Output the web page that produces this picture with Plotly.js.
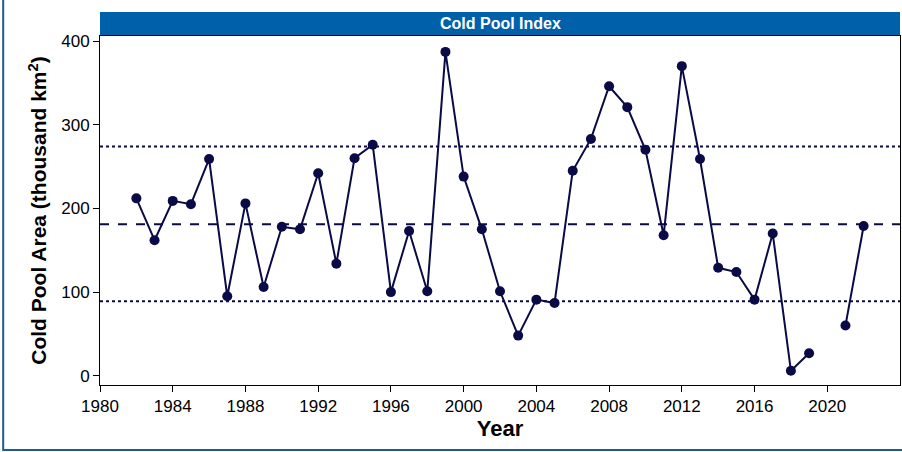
<!DOCTYPE html>
<html>
<head>
<script src="https://cdn.plot.ly/plotly-3.0.1.min.js"></script>
<style>body{margin:0;}</style>
</head>
<body>
<div id="chart" style="width:902px;height:452px;"></div>
<script>
let years1 = [1982,1983,1984,1985,1986,1987,1988,1989,1990,1991,1992,1993,1994,1995,1996,1997,1998,1999,2000,2001,2002,2003,2004,2005,2006,2007,2008,2009,2010,2011,2012,2013,2014,2015,2016,2017,2018,2019];
let area1 = [212,162,209,205,259,95,206,106,178,175,242,134,260,276,100,173,101,387,238,175,101,48,91,87,245,283,346,321,270,168,370,259,129,124,91,170,6,27];
let years2 = [2021,2022];
let area2 = [60,179];
let meanArea = 181;
let upperSd = 274;
let lowerSd = 89;
let xTicks = [1980,1984,1988,1992,1996,2000,2004,2008,2012,2016,2020];

let col = '#0a0a46';
let traces = [
    {x: years1, y: area1, mode: 'lines+markers', line: {color: col, width: 2}, marker: {color: col, size: 10}},
    {x: years2, y: area2, mode: 'lines+markers', line: {color: col, width: 2}, marker: {color: col, size: 10}}
];

function hline(y, dash) {
    return {type: 'line', xref: 'paper', x0: 0, x1: 1, yref: 'y', y0: y, y1: y, line: {color: col, width: 2, dash: dash}};
}

let layout = {
    width: 902, height: 452,
    margin: {l: 100, r: 2, t: 36, b: 67},
    showlegend: false,
    plot_bgcolor: 'white', paper_bgcolor: 'white',
    font: {family: 'Liberation Sans, Arial, sans-serif', color: 'black'},
    xaxis: {
        range: [1980, 2024], tickvals: xTicks, ticks: 'outside', ticklen: 6, tickcolor: 'black',
        showgrid: false, zeroline: false, showline: true, linecolor: 'black', mirror: true,
        tickfont: {size: 17}, title: {text: '<b>Year</b>', font: {size: 22}, standoff: 4}
    },
    yaxis: {
        range: [-11, 406], tickvals: [0,100,200,300,400], ticks: 'outside', ticklen: 6, tickcolor: 'black',
        showgrid: false, zeroline: false, showline: true, linecolor: 'black', mirror: true,
        tickfont: {size: 17}, title: {text: '<b>Cold Pool Area (thousand km<sup>2</sup>)</b>', font: {size: 21}, standoff: 8}
    },
    shapes: [
        hline(upperSd, 'dot'), hline(meanArea, 'dash'), hline(lowerSd, 'dot'),
        {type: 'rect', layer: 'below', xref: 'paper', yref: 'paper', x0: 0, x1: 1, y0: 1, y1: 1.069, fillcolor: '#0060aa', line: {width: 0}},
        {type: 'rect', layer: 'below', xref: 'paper', yref: 'paper', x0: -0.121, x1: 1.01, y0: -0.186, y1: 1.2, line: {color: '#1f5a96', width: 2}}
    ],
    annotations: [
        {xref: 'paper', yref: 'paper', x: 0.5, y: 1.035, yanchor: 'middle', text: '<b>Cold Pool Index</b>', showarrow: false, font: {color: 'white', size: 16}}
    ]
};

Plotly.newPlot('chart', traces, layout, {displayModeBar: false});
</script>
</body>
</html>
